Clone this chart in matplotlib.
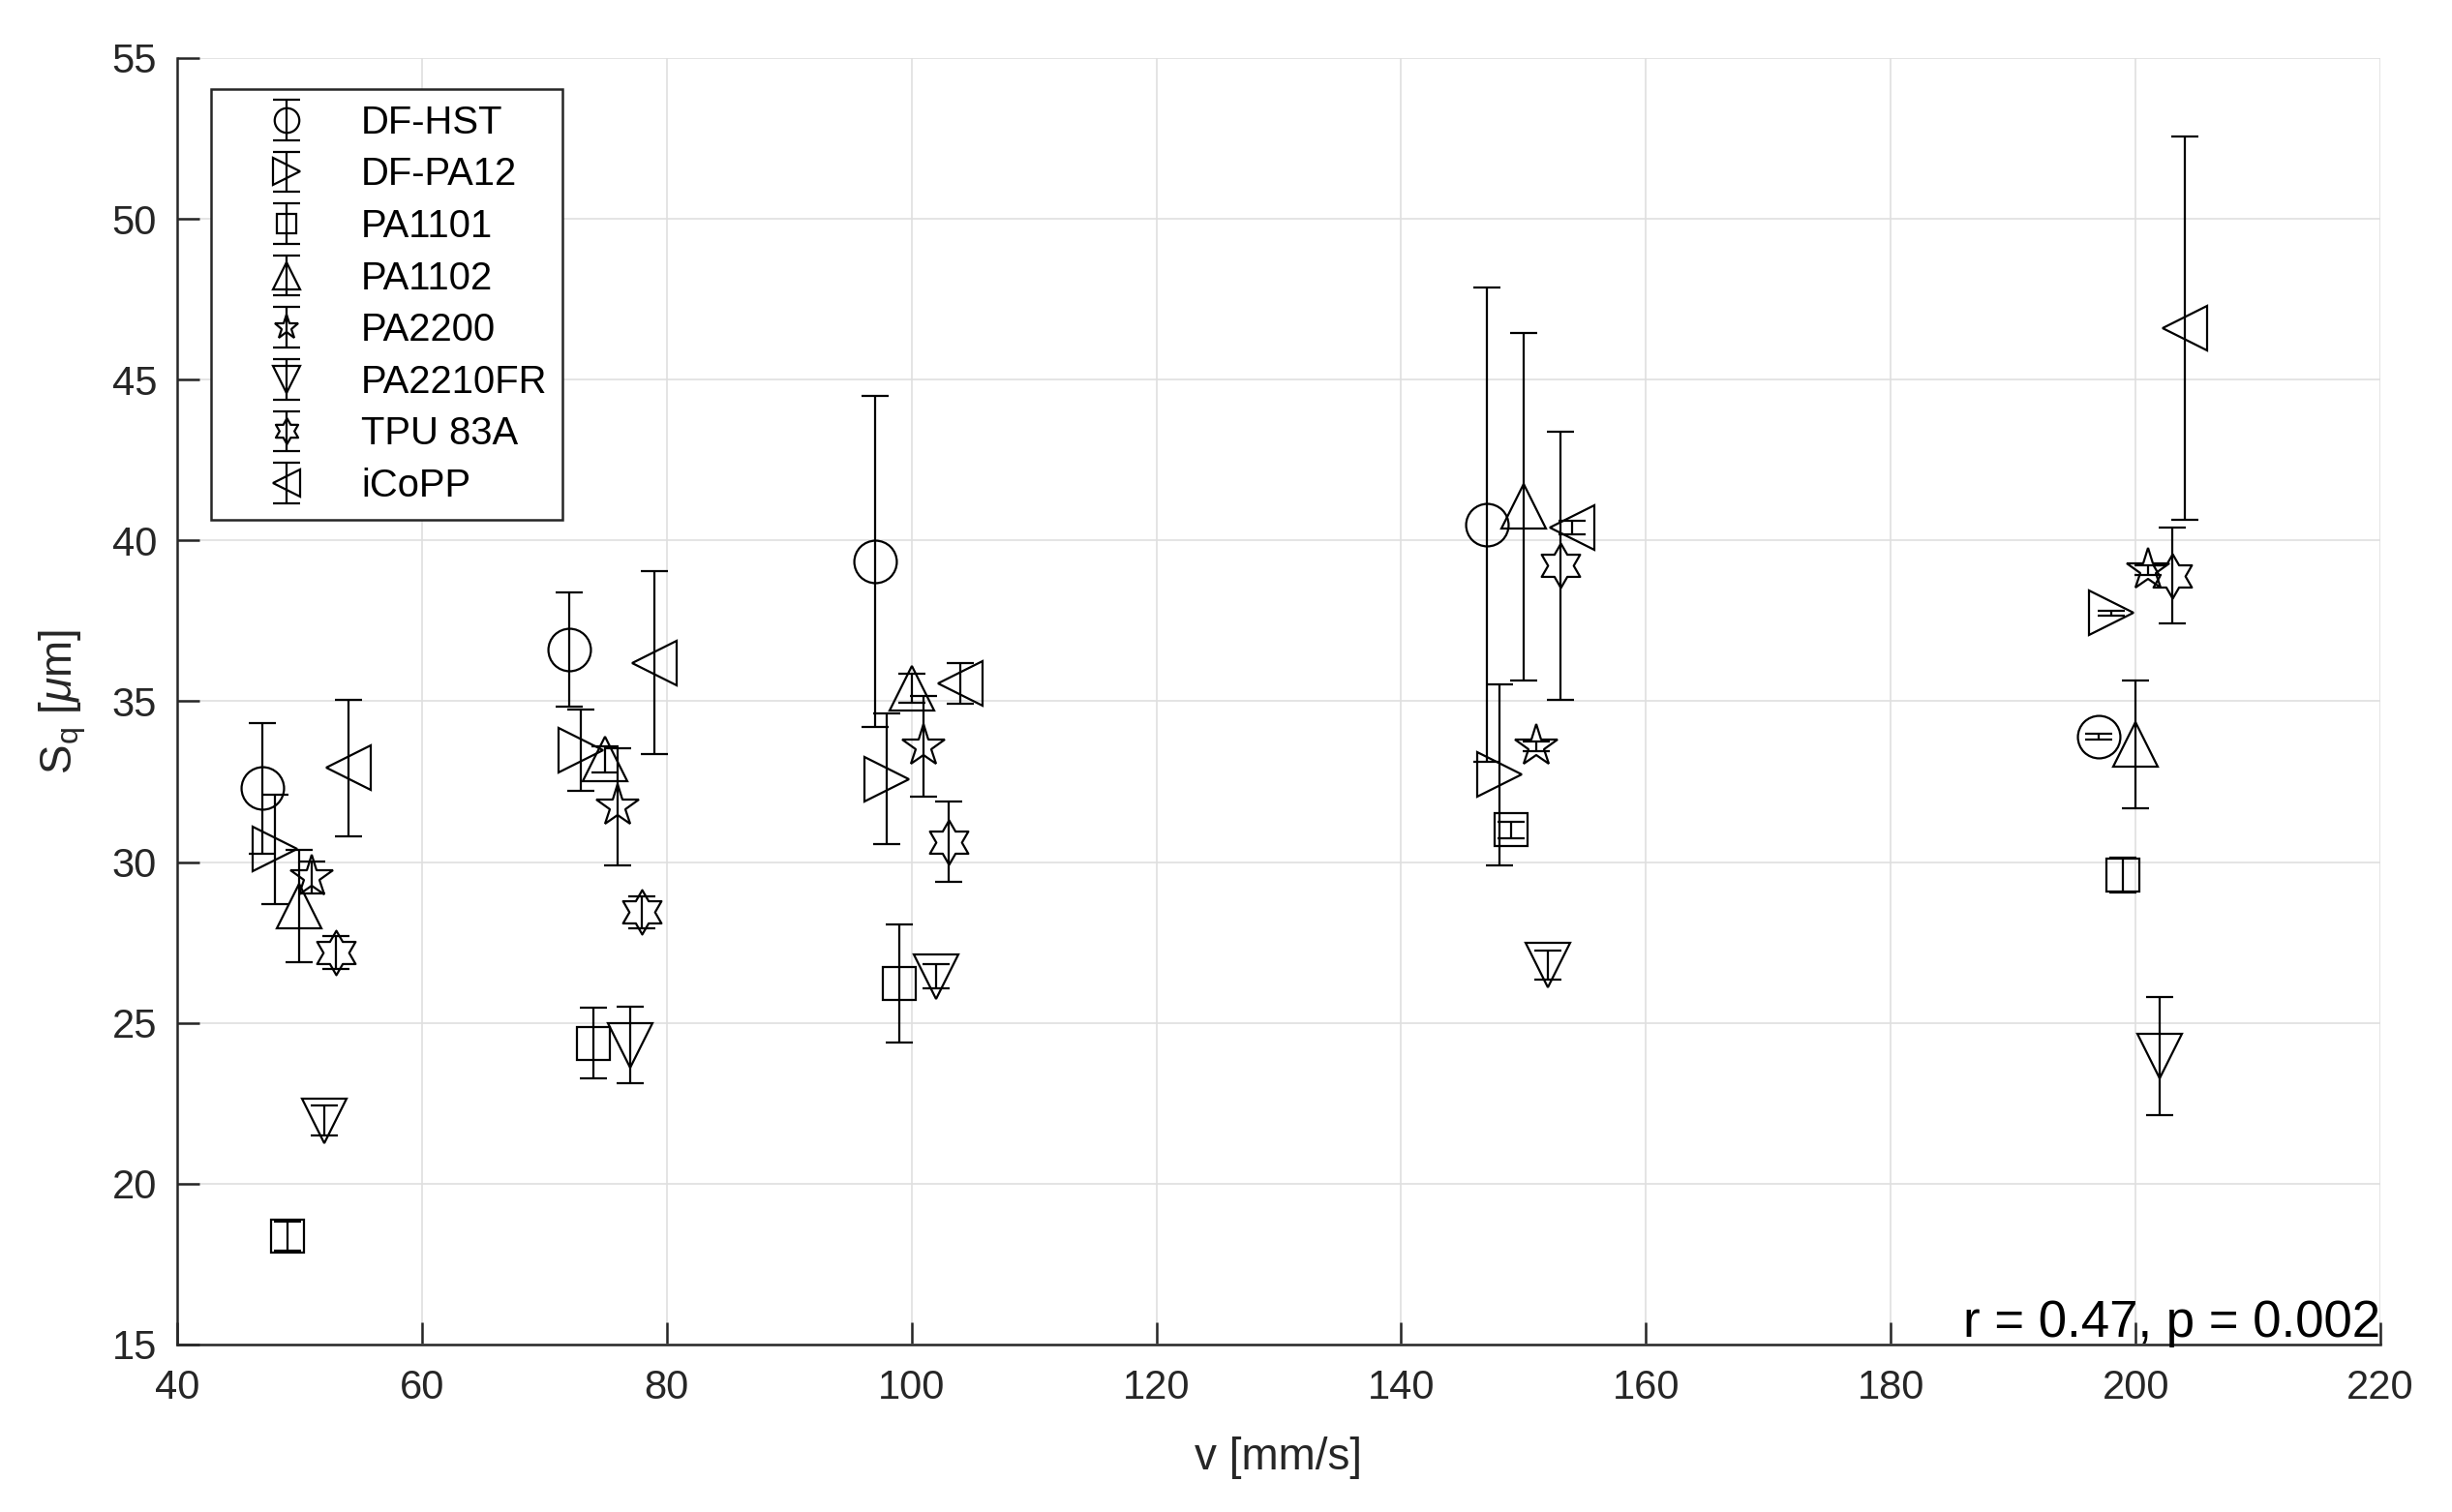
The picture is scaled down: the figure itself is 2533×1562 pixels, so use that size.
import matplotlib
matplotlib.use('Agg')
import matplotlib.pyplot as plt
from matplotlib.path import Path
from matplotlib.container import ErrorbarContainer
from matplotlib.legend_handler import HandlerErrorbar

plt.rcParams['font.family'] = ['Liberation Sans', 'DejaVu Sans']
plt.rcParams['mathtext.fontset'] = 'custom'
plt.rcParams['mathtext.rm'] = 'Liberation Sans'
plt.rcParams['mathtext.it'] = 'Liberation Sans:italic'

# scan speeds (mm/s) and material order
velocidades = [50, 75, 100, 150, 200]
materiales = ['DF-HST', 'DF-PA12', 'PA1101', 'PA1102', 'PA2200', 'PA2210FR', 'TPU 83A', 'iCoPP']
desplazamiento = [-3, -2, -1, 0, 1, 2, 3, 4]

# Sq mean and std (um) per material, one value per speed
sq_dfhst = [32.3, 36.6, 39.35, 40.5, 33.9]
err_dfhst = [2.03, 1.78, 5.15, 7.37, 0.08]
sq_dfpa12 = [30.4, 33.47, 32.59, 32.72, 37.74]
err_dfpa12 = [1.7, 1.27, 2.03, 2.81, 0.08]
sq_pa1101 = [18.36, 24.37, 26.22, 31.0, 29.6]
err_pa1101 = [0.45, 1.09, 1.83, 0.25, 0.55]
sq_pa1102 = [28.63, 33.2, 35.4, 41.05, 33.66]
err_pa1102 = [1.75, 0.4, 0.45, 5.4, 2.0]
sq_pa2200 = [29.53, 31.72, 33.59, 33.6, 39.07]
err_pa2200 = [0.5, 1.82, 1.56, 0.15, 0.15]
sq_pa2210fr = [21.96, 24.31, 26.45, 26.8, 23.96]
err_pa2210fr = [0.47, 1.2, 0.37, 0.45, 1.83]
sq_tpu83a = [27.19, 28.44, 30.63, 39.22, 38.91]
err_tpu83a = [0.52, 0.5, 1.25, 4.17, 1.5]
sq_icopp = [32.93, 36.2, 35.56, 40.4, 46.6]
err_icopp = [2.12, 2.85, 0.63, 0.2, 5.95]

valores = [sq_dfhst, sq_dfpa12, sq_pa1101, sq_pa1102, sq_pa2200, sq_pa2210fr, sq_tpu83a, sq_icopp]
errores = [err_dfhst, err_dfpa12, err_pa1101, err_pa1102, err_pa2200, err_pa2210fr, err_tpu83a, err_icopp]

hexagrama = Path.unit_regular_star(6, innerCircle=0.577)
marcadores = ['o', '>', 's', '^', '*', 'v', hexagrama, '<']
tamanos = [15.8, 16.8, 12.2, 16.8, 16.3, 16.8, 16.5, 16.8]

fig = plt.figure(figsize=(12.665, 7.81), dpi=200)
ax = fig.add_axes([0.0722, 0.1108, 0.8986, 0.8508])

for i, nombre in enumerate(materiales):
    x = [v + desplazamiento[i] for v in velocidades]
    ax.errorbar(x, valores[i], yerr=errores[i], marker=marcadores[i], linestyle='none',
                ms=tamanos[i], mfc='none', mec='black', mew=0.8, color='black',
                elinewidth=0.8, capsize=4.9, capthick=0.8, label=nombre)

ax.set_xlim(40, 220)
ax.set_ylim(15, 55)
ax.set_xticks(range(40, 221, 20))
ax.set_yticks(range(15, 56, 5))
ax.grid(True, color='#dfdfdf', linewidth=0.6)
ax.set_axisbelow(True)
for lado in ['top', 'right']:
    ax.spines[lado].set_visible(False)
for lado in ['left', 'bottom']:
    ax.spines[lado].set_color('#262626')
    ax.spines[lado].set_linewidth(0.9)
ax.tick_params(axis='both', direction='in', length=8.3, width=0.9, color='#262626',
               labelcolor='#262626', labelsize=15)
ax.tick_params(axis='x', pad=9)
ax.tick_params(axis='y', pad=7.5)

ax.set_xlabel('v [mm/s]', fontsize=16.5, color='#262626', labelpad=11)
ax.set_ylabel(r'S$_\mathrm{q}$ [$\mu$m]', fontsize=16.5, color='#262626', labelpad=9)

ax.text(1.0, 0.006, 'r = 0.47, p = 0.002', transform=ax.transAxes, ha='right',
        va='baseline', fontsize=19)

leg = ax.legend(loc='upper left', bbox_to_anchor=(0.0154, 0.976), borderaxespad=0,
                fontsize=14.4, numpoints=1, markerscale=0.58, handlelength=3.1,
                handletextpad=0.375, borderpad=0.4, labelspacing=0.39,
                fancybox=False, framealpha=1, edgecolor='#262626',
                handler_map={ErrorbarContainer: HandlerErrorbar(yerr_size=0.52)})
leg.get_frame().set_linewidth(0.9)

fig.savefig('out.png', dpi=200)
